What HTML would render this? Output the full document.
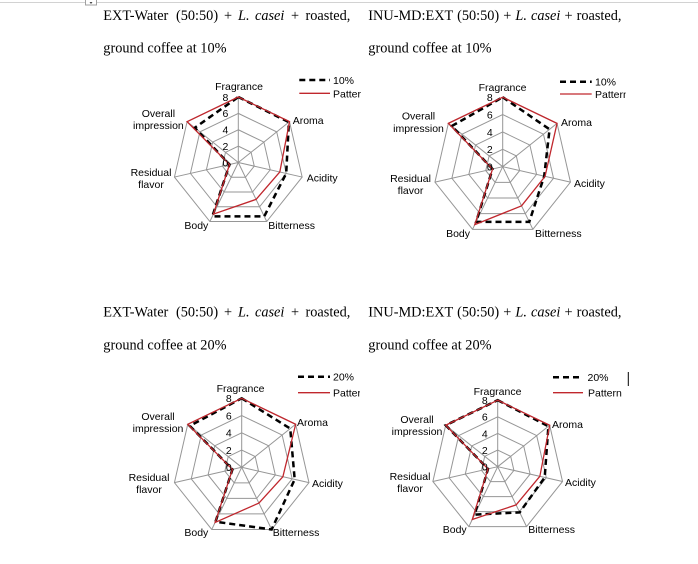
<!DOCTYPE html>
<html>
<head>
<meta charset="utf-8">
<style>
  html,body{margin:0;padding:0;background:#fff;}
  svg{display:block;}
  .lab{font-family:"Liberation Sans",Arial,sans-serif;font-size:10.5px;fill:#000;}
  .hd{font-family:"Liberation Serif","Times New Roman",serif;font-size:14.3px;fill:#000;}
</style>
</head>
<body>
<svg width="698" height="564" viewBox="0 0 698 564" xmlns="http://www.w3.org/2000/svg" xmlns:xlink="http://www.w3.org/1999/xlink">
<defs>
  <g id="grid" fill="none" stroke="#969696">
    <polygon points="0,-8 6.2546,-4.9879 7.7994,1.7802 3.4710,7.2078 -3.4710,7.2078 -7.7994,1.7802 -6.2546,-4.9879"/>
    <polygon points="0,-6 4.6910,-3.7409 5.8496,1.3351 2.6033,5.4058 -2.6033,5.4058 -5.8496,1.3351 -4.6910,-3.7409"/>
    <polygon points="0,-4 3.1273,-2.4940 3.8997,0.8901 1.7355,3.6039 -1.7355,3.6039 -3.8997,0.8901 -3.1273,-2.4940"/>
    <polygon points="0,-2 1.5637,-1.2470 1.9499,0.4450 0.8678,1.8019 -0.8678,1.8019 -1.9499,0.4450 -1.5637,-1.2470"/>
    <path d="M0,0L0,-8M0,0L6.2546,-4.9879M0,0L7.7994,1.7802M0,0L3.4710,7.2078M0,0L-3.4710,7.2078M0,0L-7.7994,1.7802M0,0L-6.2546,-4.9879"/>
  </g>
  <clipPath id="c1"><rect x="290" y="70" width="71" height="40"/></clipPath>
  <clipPath id="c2"><rect x="550" y="70" width="76" height="40"/></clipPath>
  <clipPath id="c3"><rect x="290" y="366" width="70" height="40"/></clipPath>
</defs>

<!-- top decoration -->
<line x1="0" y1="2.5" x2="698" y2="2.5" stroke="#d2d2d2" stroke-width="1"/>
<rect x="85.5" y="-1" width="11" height="6" fill="#fff" stroke="#a0a0a0" stroke-width="1"/>
<polygon points="89.5,2 92.5,2 91,4" fill="#444"/>

<!-- Headings top -->
<text class="hd" y="20"><tspan x="103.3">EXT-Water</tspan><tspan x="176">(50:50)</tspan><tspan x="224">+</tspan><tspan x="238" font-style="italic">L.</tspan><tspan x="255" font-style="italic">casei</tspan><tspan x="291">+</tspan><tspan x="305.5">roasted,</tspan></text>
<text class="hd" x="103.3" y="52.5">ground coffee at 10%</text>
<text class="hd" x="368.3" y="20" word-spacing="0.5">INU-MD:EXT (50:50) + <tspan font-style="italic">L. casei</tspan> + roasted,</text>
<text class="hd" x="368.3" y="52.5">ground coffee at 10%</text>

<!-- Headings bottom -->
<text class="hd" y="316.5"><tspan x="103.3">EXT-Water</tspan><tspan x="176">(50:50)</tspan><tspan x="224">+</tspan><tspan x="238" font-style="italic">L.</tspan><tspan x="255" font-style="italic">casei</tspan><tspan x="291">+</tspan><tspan x="305.5">roasted,</tspan></text>
<text class="hd" x="103.3" y="349.5">ground coffee at 20%</text>
<text class="hd" x="368.3" y="316.5" word-spacing="0.5">INU-MD:EXT (50:50) + <tspan font-style="italic">L. casei</tspan> + roasted,</text>
<text class="hd" x="368.3" y="349.5">ground coffee at 20%</text>

<!-- ============ Chart 1 ============ -->
<g transform="translate(238.3,162.5) scale(8.1875)">
  <use href="#grid" xlink:href="#grid" stroke-width="0.12"/>
  <polygon fill="none" stroke="#000" stroke-width="0.31" stroke-dasharray="0.73 0.49"
    points="0,-8 6.1765,-4.9256 5.8496,1.3351 3.1673,6.5771 -3.1673,6.5771 -1.0724,0.2448 -5.3164,-4.2397"/>
  <polygon fill="none" stroke="#c0272d" stroke-width="0.16"
    points="0,-8 6.2546,-4.9879 5.0696,1.1571 2.1694,4.5049 -3.0372,6.3068 -1.0724,0.2448 -6.2546,-4.9879"/>
</g>
<g class="lab" text-anchor="end">
  <text x="228.3" y="100.8">8</text><text x="228.3" y="117.2">6</text><text x="228.3" y="133.5">4</text><text x="228.3" y="149.9">2</text><text x="228.3" y="166.3">0</text>
</g>
<text class="lab" x="239" y="90" text-anchor="middle">Fragrance</text>
<text class="lab" x="292.7" y="124">Aroma</text>
<text class="lab" x="306.7" y="181.5">Acidity</text>
<text class="lab" x="268.3" y="229">Bitterness</text>
<text class="lab" x="208.3" y="229" text-anchor="end">Body</text>
<text class="lab" x="151" y="176" text-anchor="middle">Residual</text>
<text class="lab" x="151" y="188" text-anchor="middle">flavor</text>
<text class="lab" x="158.4" y="117" text-anchor="middle">Overall</text>
<text class="lab" x="158.4" y="129" text-anchor="middle">impression</text>
<line x1="299.3" y1="80" x2="330" y2="80" stroke="#000" stroke-width="2.5" stroke-dasharray="6 4"/>
<text class="lab" x="333" y="84">10%</text>
<line x1="299.3" y1="93.3" x2="330" y2="93.3" stroke="#c0272d" stroke-width="1.3"/>
<text class="lab" x="333" y="97.3" clip-path="url(#c1)">Pattern</text>

<!-- ============ Chart 2 ============ -->
<g transform="translate(502.7,166.7) scale(8.6875)">
  <use href="#grid" xlink:href="#grid" stroke-width="0.115"/>
  <polygon fill="none" stroke="#000" stroke-width="0.29" stroke-dasharray="0.69 0.46"
    points="0,-8 5.3946,-4.3021 4.7772,1.0903 3.0589,6.3518 -3.0589,6.3518 -1.1699,0.2670 -5.8637,-4.6762"/>
  <polygon fill="none" stroke="#c0272d" stroke-width="0.15"
    points="0,-8 6.2546,-4.9879 4.8747,1.1126 2.1694,4.5049 -3.2107,6.6672 -1.1699,0.2670 -6.2546,-4.9879"/>
</g>
<g class="lab" text-anchor="end">
  <text x="492.7" y="101">8</text><text x="492.7" y="118.4">6</text><text x="492.7" y="135.8">4</text><text x="492.7" y="153.1">2</text><text x="492.7" y="170.5">0</text>
</g>
<text class="lab" x="502.5" y="91" text-anchor="middle">Fragrance</text>
<text class="lab" x="561" y="126">Aroma</text>
<text class="lab" x="574" y="187">Acidity</text>
<text class="lab" x="535" y="237">Bitterness</text>
<text class="lab" x="470" y="237" text-anchor="end">Body</text>
<text class="lab" x="410.5" y="182" text-anchor="middle">Residual</text>
<text class="lab" x="410.5" y="194" text-anchor="middle">flavor</text>
<text class="lab" x="418.5" y="119.5" text-anchor="middle">Overall</text>
<text class="lab" x="418.5" y="132" text-anchor="middle">impression</text>
<line x1="560" y1="81.7" x2="591.7" y2="81.7" stroke="#000" stroke-width="2.5" stroke-dasharray="6 4"/>
<text class="lab" x="595" y="85.5">10%</text>
<line x1="560" y1="94" x2="591.7" y2="94" stroke="#c0272d" stroke-width="1.3"/>
<text class="lab" x="595" y="98" clip-path="url(#c2)">Pattern</text>

<!-- ============ Chart 3 ============ -->
<g transform="translate(241.7,467.3) scale(8.625)">
  <use href="#grid" xlink:href="#grid" stroke-width="0.116"/>
  <polygon fill="none" stroke="#000" stroke-width="0.29" stroke-dasharray="0.7 0.46"
    points="0,-8 5.6292,-4.4891 6.1421,1.4019 3.4710,7.2078 -3.0372,6.3068 -1.0724,0.2448 -6.0201,-4.8009"/>
  <polygon fill="none" stroke="#c0272d" stroke-width="0.15"
    points="0,-8 6.2546,-4.9879 4.7772,1.0903 1.9958,4.1445 -3.0805,6.3969 -1.0724,0.2448 -6.2546,-4.9879"/>
</g>
<g class="lab" text-anchor="end">
  <text x="231.7" y="402.1">8</text><text x="231.7" y="419.35">6</text><text x="231.7" y="436.6">4</text><text x="231.7" y="453.85">2</text><text x="231.7" y="471.1">0</text>
</g>
<text class="lab" x="240.5" y="392" text-anchor="middle">Fragrance</text>
<text class="lab" x="297" y="426">Aroma</text>
<text class="lab" x="312" y="487">Acidity</text>
<text class="lab" x="272.7" y="536">Bitterness</text>
<text class="lab" x="208.3" y="536" text-anchor="end">Body</text>
<text class="lab" x="149" y="481" text-anchor="middle">Residual</text>
<text class="lab" x="149" y="493" text-anchor="middle">flavor</text>
<text class="lab" x="158" y="420" text-anchor="middle">Overall</text>
<text class="lab" x="158" y="432" text-anchor="middle">impression</text>
<line x1="298" y1="376.7" x2="330" y2="376.7" stroke="#000" stroke-width="2.5" stroke-dasharray="6 4"/>
<text class="lab" x="333" y="380.5">20%</text>
<line x1="298" y1="392.7" x2="330" y2="392.7" stroke="#c0272d" stroke-width="1.3"/>
<text class="lab" x="333" y="396.5" clip-path="url(#c3)">Pattern</text>

<!-- ============ Chart 4 ============ -->
<g transform="translate(497.7,466.7) scale(8.3125)">
  <use href="#grid" xlink:href="#grid" stroke-width="0.12"/>
  <polygon fill="none" stroke="#000" stroke-width="0.3" stroke-dasharray="0.72 0.48"
    points="0,-8 6.0983,-4.8632 5.6546,1.2906 2.6467,5.4959 -2.7768,5.7662 -1.1699,0.2670 -6.2546,-4.9879"/>
  <polygon fill="none" stroke="#c0272d" stroke-width="0.155"
    points="0,-8 6.2546,-4.9879 5.0696,1.1571 2.2128,4.5949 -3.0589,6.3518 -1.1699,0.2670 -6.2546,-4.9879"/>
</g>
<g class="lab" text-anchor="end">
  <text x="487.7" y="404">8</text><text x="487.7" y="420.6">6</text><text x="487.7" y="437.25">4</text><text x="487.7" y="453.9">2</text><text x="487.7" y="470.5">0</text>
</g>
<text class="lab" x="497.5" y="395" text-anchor="middle">Fragrance</text>
<text class="lab" x="552" y="428">Aroma</text>
<text class="lab" x="565" y="486">Acidity</text>
<text class="lab" x="528.3" y="533">Bitterness</text>
<text class="lab" x="466.7" y="533" text-anchor="end">Body</text>
<text class="lab" x="410" y="480" text-anchor="middle">Residual</text>
<text class="lab" x="410" y="492" text-anchor="middle">flavor</text>
<text class="lab" x="417" y="423" text-anchor="middle">Overall</text>
<text class="lab" x="417" y="435" text-anchor="middle">impression</text>
<line x1="553" y1="377.3" x2="583" y2="377.3" stroke="#000" stroke-width="2.5" stroke-dasharray="6 4"/>
<text class="lab" x="587.5" y="381">20%</text>
<line x1="553" y1="392.7" x2="583" y2="392.7" stroke="#c0272d" stroke-width="1.3"/>
<text class="lab" x="588" y="396.5">Pattern</text>
<line x1="628.3" y1="372" x2="628.3" y2="386" stroke="#000" stroke-width="1"/>
</svg>
</body>
</html>
